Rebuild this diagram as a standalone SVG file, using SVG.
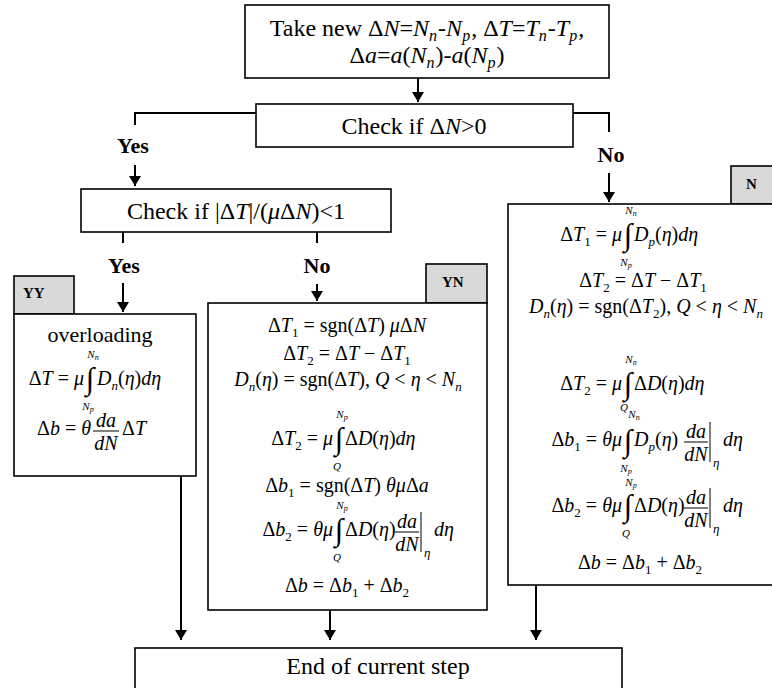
<svg xmlns="http://www.w3.org/2000/svg" width="772" height="688" viewBox="0 0 772 688">
<defs>
<marker id="ah" markerUnits="userSpaceOnUse" markerWidth="10" markerHeight="12" refX="10" refY="5" orient="auto" viewBox="0 0 10 10" preserveAspectRatio="none">
<path d="M0,0 L10,5 L0,10 z" fill="#000"/>
</marker>
<style>
text{font-family:"Liberation Serif","Times New Roman",serif;fill:#000}
.box{fill:#fff;stroke:#000;stroke-width:1.6}
.tab{fill:#d9d9d9;stroke:#000;stroke-width:1.6}
.tabt{font-weight:bold;font-size:15px}
.lbl{font-size:24px}
.ov{font-size:22px}
.yn{font-weight:bold;font-size:22px}
.f{font-size:20px}
.i{font-style:italic}
.sb{font-size:13px}
.ss{font-size:16px}
.lim{font-size:11px;font-style:italic}
.lsb{font-size:8px}
.int{font-size:31px}
.c{fill:none;stroke:#000;stroke-width:2}
.ca{fill:none;stroke:#000;stroke-width:2;marker-end:url(#ah)}
.th{stroke:#000;stroke-width:1}
</style>
</defs>

<g id="connectors">
<path class="ca" d="M418,78 V102"/>
<path class="c" d="M256,113 H135 V125"/>
<path class="ca" d="M135,165 V186"/>
<path class="c" d="M573,113 H609 V132"/>
<path class="ca" d="M609,173 V202"/>
<path class="c" d="M123,232 V243"/>
<path class="c" d="M317,232 V243"/>
<path class="ca" d="M123,283 V312"/>
<path class="ca" d="M317,284 V301"/>
<path class="ca" d="M181,476 V640"/>
<path class="ca" d="M330,610 V640"/>
<path class="ca" d="M536,585 V640"/>
<text class="yn" x="133" y="153" text-anchor="middle">Yes</text>
<text class="yn" x="611" y="162" text-anchor="middle">No</text>
<text class="yn" x="124" y="273" text-anchor="middle">Yes</text>
<text class="yn" x="317" y="273" text-anchor="middle">No</text>
</g>

<g id="n-start">
<rect class="box" x="245" y="5" width="364" height="73"/>
<text class="lbl" x="427" y="36" text-anchor="middle">Take new Δ<tspan class="i">N</tspan>=<tspan class="i">N</tspan><tspan class="ss i" dy="5">n</tspan><tspan dy="-5" dx="1">-</tspan><tspan class="i">N</tspan><tspan class="ss i" dy="5">p</tspan><tspan dy="-5" dx="1">, Δ</tspan><tspan class="i">T</tspan>=<tspan class="i">T</tspan><tspan class="ss i" dy="5">n</tspan><tspan dy="-5" dx="1">-</tspan><tspan class="i">T</tspan><tspan class="ss i" dy="5">p</tspan><tspan dy="-5" dx="1">,</tspan></text>
<text class="lbl" x="427" y="63" text-anchor="middle">Δ<tspan class="i">a</tspan>=<tspan class="i">a</tspan>(<tspan class="i">N</tspan><tspan class="ss i" dy="5">n</tspan><tspan dy="-5" dx="1">)-</tspan><tspan class="i">a</tspan>(<tspan class="i">N</tspan><tspan class="ss i" dy="5">p</tspan><tspan dy="-5" dx="1">)</tspan></text>
</g>

<g id="n-check1">
<rect class="box" x="256" y="104" width="317" height="43"/>
<text class="lbl" x="414" y="134" text-anchor="middle">Check if Δ<tspan class="i">N</tspan>&gt;0</text>
</g>

<g id="n-check2">
<rect class="box" x="81" y="189" width="310" height="43"/>
<text class="lbl" x="236" y="219" text-anchor="middle">Check if |Δ<tspan class="i">T</tspan>|/(<tspan class="i">μ</tspan>Δ<tspan class="i">N</tspan>)&lt;1</text>
</g>

<g id="n-yy">
<rect class="tab" x="14" y="276" width="60" height="38"/>
<text class="tabt" x="23" y="298">YY</text>
<rect class="box" x="14" y="314" width="182" height="162"/>
<text class="ov" x="100" y="342" text-anchor="middle">overloading</text>
<text class="f" x="84" y="385" text-anchor="end">Δ<tspan class="i">T</tspan> = <tspan class="i">μ</tspan></text>
<text class="int" x="90" y="389" text-anchor="middle">∫</text>
<text class="lim" x="93" y="358" text-anchor="middle">N<tspan class="lsb" dy="2">n</tspan></text>
<text class="lim" x="88" y="410" text-anchor="middle">N<tspan class="lsb" dy="2">p</tspan></text>
<text class="f" x="97" y="385"><tspan class="i">D</tspan><tspan class="sb i" dy="5">n</tspan><tspan dy="-5">(</tspan><tspan class="i">η</tspan>)<tspan class="i">dη</tspan></text>
<text class="f" x="37" y="435">Δ<tspan class="i">b</tspan> = <tspan class="i">θ</tspan></text>
<text class="f i" x="106" y="427" text-anchor="middle">da</text>
<line class="th" x1="93" y1="431" x2="119" y2="431"/>
<text class="f i" x="106" y="450" text-anchor="middle">dN</text>
<text class="f" x="122" y="435">Δ<tspan class="i">T</tspan></text>
</g>

<g id="n-yn">
<rect class="tab" x="426" y="264" width="61" height="39"/>
<text class="tabt" x="442" y="287">YN</text>
<rect class="box" x="208" y="303" width="279" height="307"/>
<text class="f" x="347" y="332" text-anchor="middle">Δ<tspan class="i">T</tspan><tspan class="sb" dy="5">1</tspan><tspan dy="-5"> = sgn(Δ</tspan><tspan class="i">T</tspan>) <tspan class="i">μ</tspan>Δ<tspan class="i">N</tspan></text>
<text class="f" x="347" y="360" text-anchor="middle">Δ<tspan class="i">T</tspan><tspan class="sb" dy="5">2</tspan><tspan dy="-5"> = Δ</tspan><tspan class="i">T</tspan> − Δ<tspan class="i">T</tspan><tspan class="sb" dy="5">1</tspan></text>
<text class="f" x="348" y="386" text-anchor="middle"><tspan class="i">D</tspan><tspan class="sb i" dy="5">n</tspan><tspan dy="-5">(</tspan><tspan class="i">η</tspan>) = sgn(Δ<tspan class="i">T</tspan>), <tspan class="i">Q</tspan> &lt; <tspan class="i">η</tspan> &lt; <tspan class="i">N</tspan><tspan class="sb i" dy="5">n</tspan></text>
<text class="f" x="333" y="445" text-anchor="end">Δ<tspan class="i">T</tspan><tspan class="sb" dy="5">2</tspan><tspan dy="-5"> = </tspan><tspan class="i">μ</tspan></text>
<text class="int" x="339" y="449" text-anchor="middle">∫</text>
<text class="lim" x="342" y="418" text-anchor="middle">N<tspan class="lsb" dy="2">p</tspan></text>
<text class="lim" x="337" y="470" text-anchor="middle">Q</text>
<text class="f" x="345" y="445">Δ<tspan class="i">D</tspan>(<tspan class="i">η</tspan>)<tspan class="i">dη</tspan></text>
<text class="f" x="347" y="492" text-anchor="middle">Δ<tspan class="i">b</tspan><tspan class="sb" dy="5">1</tspan><tspan dy="-5"> = sgn(Δ</tspan><tspan class="i">T</tspan>) <tspan class="i">θμ</tspan>Δ<tspan class="i">a</tspan></text>
<text class="f" x="333" y="536" text-anchor="end">Δ<tspan class="i">b</tspan><tspan class="sb" dy="5">2</tspan><tspan dy="-5"> = </tspan><tspan class="i">θμ</tspan></text>
<text class="int" x="339" y="540" text-anchor="middle">∫</text>
<text class="lim" x="342" y="509" text-anchor="middle">N<tspan class="lsb" dy="2">p</tspan></text>
<text class="lim" x="337" y="561" text-anchor="middle">Q</text>
<text class="f" x="345" y="536">Δ<tspan class="i">D</tspan>(<tspan class="i">η</tspan>)</text>
<text class="f i" x="407" y="528" text-anchor="middle">da</text>
<line class="th" x1="395" y1="532" x2="419" y2="532"/>
<text class="f i" x="407" y="551" text-anchor="middle">dN</text>
<line class="th" x1="421" y1="512" x2="421" y2="552"/>
<text class="sb i" x="424" y="557">η</text>
<text class="f i" x="434" y="536">dη</text>
<text class="f" x="347" y="592" text-anchor="middle">Δ<tspan class="i">b</tspan> = Δ<tspan class="i">b</tspan><tspan class="sb" dy="5">1</tspan><tspan dy="-5"> + Δ</tspan><tspan class="i">b</tspan><tspan class="sb" dy="5">2</tspan></text>
</g>

<g id="n-n">
<rect class="tab" x="731" y="166" width="61" height="38"/>
<text class="tabt" x="746" y="189">N</text>
<rect class="box" x="508" y="204" width="270" height="381"/>
<text class="f" x="622" y="241" text-anchor="end">Δ<tspan class="i">T</tspan><tspan class="sb" dy="5">1</tspan><tspan dy="-5"> = </tspan><tspan class="i">μ</tspan></text>
<text class="int" x="628" y="245" text-anchor="middle">∫</text>
<text class="lim" x="631" y="214" text-anchor="middle">N<tspan class="lsb" dy="2">n</tspan></text>
<text class="lim" x="626" y="266" text-anchor="middle">N<tspan class="lsb" dy="2">p</tspan></text>
<text class="f" x="634" y="241"><tspan class="i">D</tspan><tspan class="sb i" dy="5">p</tspan><tspan dy="-5">(</tspan><tspan class="i">η</tspan>)<tspan class="i">dη</tspan></text>
<text class="f" x="643" y="287" text-anchor="middle">Δ<tspan class="i">T</tspan><tspan class="sb" dy="5">2</tspan><tspan dy="-5"> = Δ</tspan><tspan class="i">T</tspan> − Δ<tspan class="i">T</tspan><tspan class="sb" dy="5">1</tspan></text>
<text class="f" x="646" y="313" text-anchor="middle"><tspan class="i">D</tspan><tspan class="sb i" dy="5">n</tspan><tspan dy="-5">(</tspan><tspan class="i">η</tspan>) = sgn(Δ<tspan class="i">T</tspan><tspan class="sb" dy="5">2</tspan><tspan dy="-5">), </tspan><tspan class="i">Q</tspan> &lt; <tspan class="i">η</tspan> &lt; <tspan class="i">N</tspan><tspan class="sb i" dy="5">n</tspan></text>
<text class="f" x="622" y="390" text-anchor="end">Δ<tspan class="i">T</tspan><tspan class="sb" dy="5">2</tspan><tspan dy="-5"> = </tspan><tspan class="i">μ</tspan></text>
<text class="int" x="628" y="394" text-anchor="middle">∫</text>
<text class="lim" x="631" y="363" text-anchor="middle">N<tspan class="lsb" dy="2">n</tspan></text>
<text class="lim" x="624" y="411" text-anchor="middle">Q</text>
<text class="f" x="634" y="390">Δ<tspan class="i">D</tspan>(<tspan class="i">η</tspan>)<tspan class="i">dη</tspan></text>
<text class="f" x="622" y="446" text-anchor="end">Δ<tspan class="i">b</tspan><tspan class="sb" dy="5">1</tspan><tspan dy="-5"> = </tspan><tspan class="i">θμ</tspan></text>
<text class="int" x="628" y="451" text-anchor="middle">∫</text>
<text class="lim" x="634" y="418" text-anchor="middle">N<tspan class="lsb" dy="2">n</tspan></text>
<text class="lim" x="626" y="472" text-anchor="middle">N<tspan class="lsb" dy="2">p</tspan></text>
<text class="f" x="634" y="446"><tspan class="i">D</tspan><tspan class="sb i" dy="5">p</tspan><tspan dy="-5">(</tspan><tspan class="i">η</tspan>)</text>
<text class="f i" x="696" y="438" text-anchor="middle">da</text>
<line class="th" x1="684" y1="442" x2="708" y2="442"/>
<text class="f i" x="696" y="461" text-anchor="middle">dN</text>
<line class="th" x1="710" y1="422" x2="710" y2="462"/>
<text class="sb i" x="713" y="467">η</text>
<text class="f i" x="723" y="446">dη</text>
<text class="f" x="622" y="512" text-anchor="end">Δ<tspan class="i">b</tspan><tspan class="sb" dy="5">2</tspan><tspan dy="-5"> = </tspan><tspan class="i">θμ</tspan></text>
<text class="int" x="628" y="516" text-anchor="middle">∫</text>
<text class="lim" x="631" y="486" text-anchor="middle">N<tspan class="lsb" dy="2">p</tspan></text>
<text class="lim" x="626" y="537" text-anchor="middle">Q</text>
<text class="f" x="634" y="512">Δ<tspan class="i">D</tspan>(<tspan class="i">η</tspan>)</text>
<text class="f i" x="696" y="504" text-anchor="middle">da</text>
<line class="th" x1="684" y1="508" x2="708" y2="508"/>
<text class="f i" x="696" y="527" text-anchor="middle">dN</text>
<line class="th" x1="710" y1="488" x2="710" y2="528"/>
<text class="sb i" x="713" y="533">η</text>
<text class="f i" x="723" y="512">dη</text>
<text class="f" x="640" y="569" text-anchor="middle">Δ<tspan class="i">b</tspan> = Δ<tspan class="i">b</tspan><tspan class="sb" dy="5">1</tspan><tspan dy="-5"> + Δ</tspan><tspan class="i">b</tspan><tspan class="sb" dy="5">2</tspan></text>
</g>

<g id="n-end">
<rect class="box" x="135" y="648" width="487" height="50"/>
<text class="lbl" x="378" y="674" text-anchor="middle">End of current step</text>
</g>
</svg>
